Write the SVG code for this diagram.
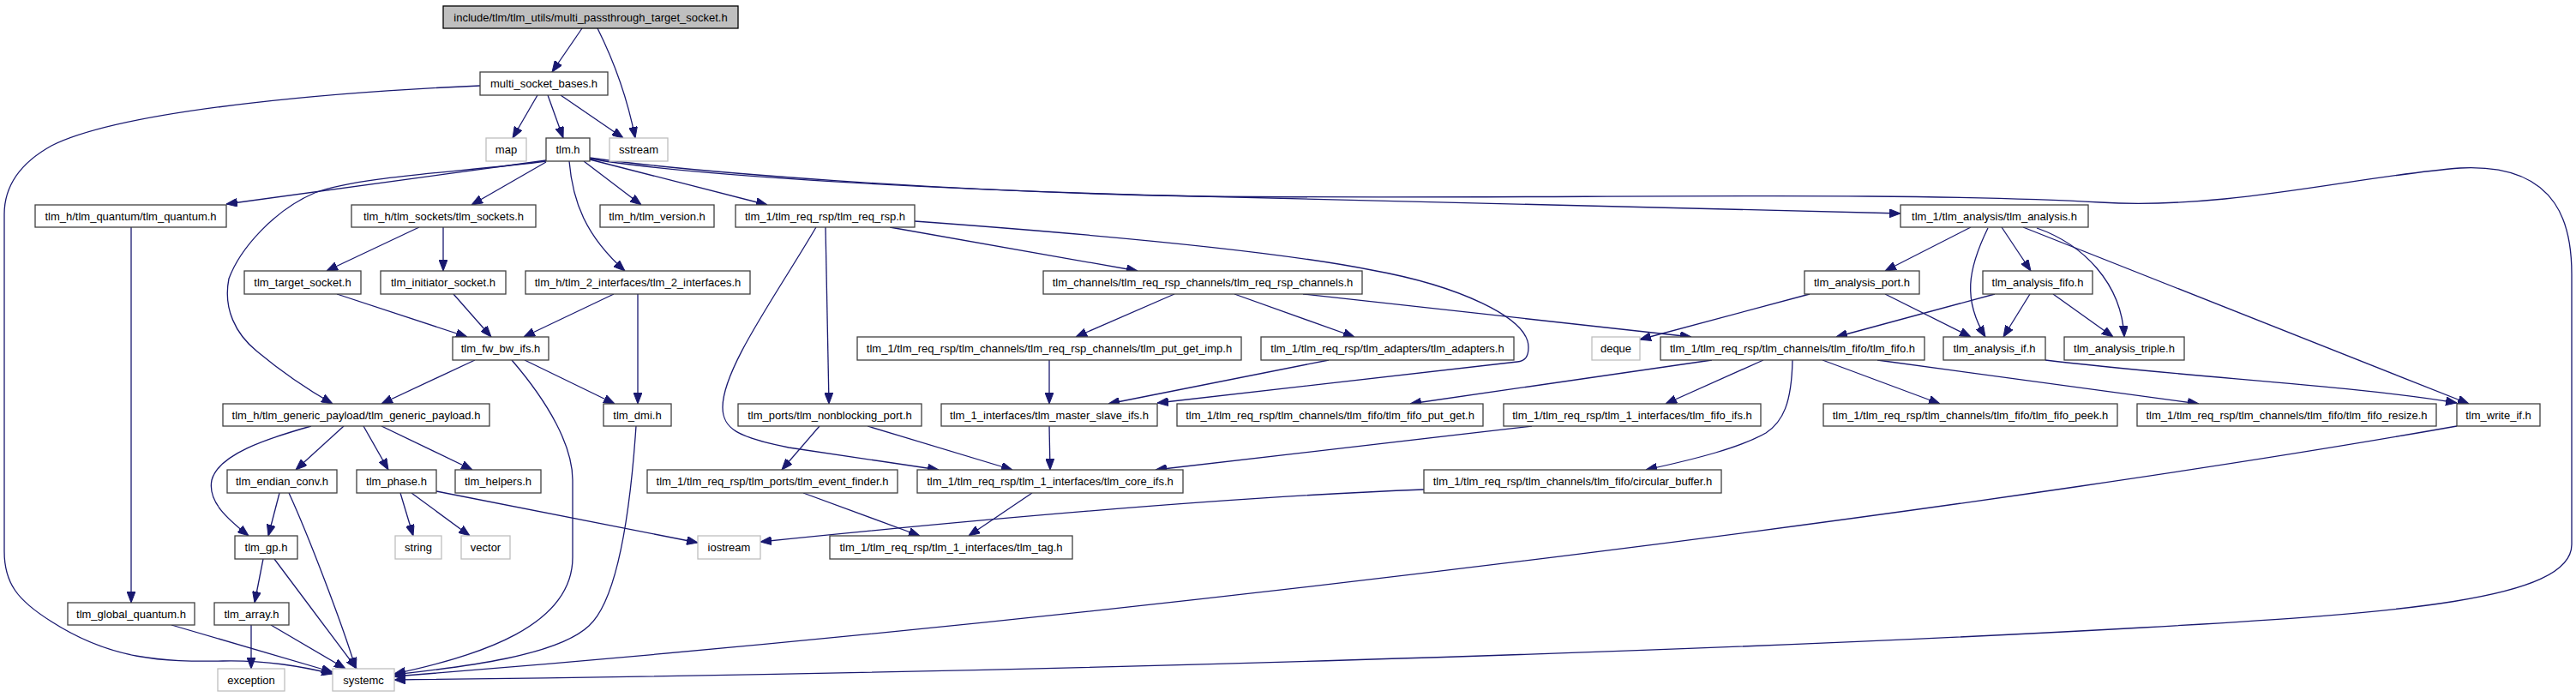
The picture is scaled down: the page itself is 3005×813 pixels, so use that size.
<svg xmlns="http://www.w3.org/2000/svg" width="3005" height="813" viewBox="0 0 3005 813">
<style>
rect{stroke-width:1.3}
.n{fill:#fff;stroke:#404040}
.x{fill:#fff;stroke:#bfbfbf}
.r{fill:#bfbfbf;stroke:#000}
text{font-family:"Liberation Sans",Arial,sans-serif;font-size:13px;text-anchor:middle;fill:#000}
#edges path{fill:none;stroke:#191970;stroke-width:1.3;marker-end:url(#a)}
</style>
<defs>
<marker id="a" markerUnits="userSpaceOnUse" markerWidth="13" markerHeight="10" refX="13" refY="5" orient="auto"><path d="M0,0 L13,5 L0,10 z" fill="#191970" stroke="#191970" stroke-width="1"/></marker>
</defs>
<rect width="3005" height="813" fill="#fff"/>
<g id="edges">
<path d="M679,33 L644,84"/>
<path d="M697,33 C718,75 733,120 741,161"/>
<path d="M560,100 C420,106 150,125 60,170 C15,195 5,225 5,250 L5,643 C5,680 20,700 60,725 C130,770 190,772 260,771 C310,770 350,777 388,786"/>
<path d="M627,111 L598,161"/>
<path d="M639,111 L657,161"/>
<path d="M654,111 L727,161"/>
<path d="M637,187 L264,238"/>
<path d="M637,188 C550,200 420,205 367,225 C320,245 280,290 267,325 C260,360 275,390 300,410 C330,435 360,455 388,471"/>
<path d="M637,189 L550,239"/>
<path d="M664,188 C668,235 683,275 729,316"/>
<path d="M681,188 L748,239"/>
<path d="M688,186 L895,239"/>
<path d="M688,185 C800,205 1100,222 1400,229 C1700,236 2000,245 2217,249"/>
<path d="M688,184 C800,200 1100,224 1400,229 C1800,233 2200,222 2450,236 C2600,245 2750,205 2870,196 C2990,190 3000,270 3000,320 L3000,635 C3000,700 2800,715 2500,732 C2000,760 1200,785 460,793"/>
<path d="M153,265 L153,703"/>
<path d="M489,265 L381,316"/>
<path d="M517,265 L517,316"/>
<path d="M393,343 L545,393"/>
<path d="M529,343 L573,393"/>
<path d="M716,343 L611,393"/>
<path d="M744,343 L744,471"/>
<path d="M554,420 L445,471"/>
<path d="M597,420 C640,470 668,520 668,560 L668,650 C668,730 560,765 460,786"/>
<path d="M612,420 L717,471"/>
<path d="M742,497 C735,600 720,700 687,730 C650,765 540,778 460,787"/>
<path d="M2866,497 C2400,580 1400,715 460,789"/>
<path d="M363,497 C310,512 255,530 247,560 C242,585 265,605 290,625"/>
<path d="M401,497 L345,548"/>
<path d="M424,497 L453,548"/>
<path d="M445,497 L551,548"/>
<path d="M326,575 L313,625"/>
<path d="M337,575 C360,625 400,730 415,780"/>
<path d="M467,575 L482,625"/>
<path d="M480,575 L548,625"/>
<path d="M509,573 L814,633"/>
<path d="M307,652 L297,703"/>
<path d="M320,652 L416,780"/>
<path d="M293,729 L293,780"/>
<path d="M316,729 L403,780"/>
<path d="M200,729 L388,784"/>
<path d="M1038,265 L1327,316"/>
<path d="M1067,258 C1300,275 1500,295 1600,315 C1700,333 1783,370 1783,405 C1783,415 1780,421 1770,422 L1350,470"/>
<path d="M963,265 L967,471"/>
<path d="M952,265 C905,345 843,430 843,475 C843,500 860,510 920,522 L1095,548"/>
<path d="M1370,343 L1255,393"/>
<path d="M1440,343 L1580,393"/>
<path d="M1520,343 L1973,393"/>
<path d="M1224,420 L1224,471"/>
<path d="M1550,420 L1293,471"/>
<path d="M1224,497 L1225,548"/>
<path d="M956,497 L912,548"/>
<path d="M1012,497 L1181,548"/>
<path d="M937,575 L1073,625"/>
<path d="M1204,575 L1130,625"/>
<path d="M2299,265 L2199,316"/>
<path d="M2319,266 C2295,315 2290,350 2316,393"/>
<path d="M2335,265 L2369,316"/>
<path d="M2376,266 C2430,285 2475,330 2478,393"/>
<path d="M2360,265 L2880,471"/>
<path d="M2111,343 L1913,396"/>
<path d="M2199,343 L2299,393"/>
<path d="M2327,343 L2142,393"/>
<path d="M2368,343 L2337,393"/>
<path d="M2395,343 L2465,393"/>
<path d="M2386,420 C2550,440 2750,450 2866,470"/>
<path d="M1997,420 L1645,471"/>
<path d="M2057,420 L1943,471"/>
<path d="M2091,420 C2090,470 2080,492 2060,505 C2030,522 1980,535 1920,548"/>
<path d="M2126,420 L2263,471"/>
<path d="M2190,420 L2565,471"/>
<path d="M1787,497 L1348,548"/>
<path d="M1661,571 C1450,579 1150,605 887,632"/>
</g>
<g id="n0"><rect class="r" x="517" y="7" width="344" height="26"/><text x="689" y="24.5">include/tlm/tlm_utils/multi_passthrough_target_socket.h</text></g>
<g id="n1"><rect class="n" x="560" y="84" width="149" height="27"/><text x="634.5" y="101.5">multi_socket_bases.h</text></g>
<g id="n2"><rect class="x" x="567" y="161" width="47" height="27"/><text x="590.5" y="178.5">map</text></g>
<g id="n3"><rect class="n" x="637" y="161" width="51" height="27"/><text x="662.5" y="178.5">tlm.h</text></g>
<g id="n4"><rect class="x" x="711" y="161" width="68" height="27"/><text x="745" y="178.5">sstream</text></g>
<g id="n5"><rect class="n" x="41" y="239" width="223" height="26"/><text x="152.5" y="256.5">tlm_h/tlm_quantum/tlm_quantum.h</text></g>
<g id="n6"><rect class="n" x="410" y="239" width="215" height="26"/><text x="517.5" y="256.5">tlm_h/tlm_sockets/tlm_sockets.h</text></g>
<g id="n7"><rect class="n" x="700" y="239" width="133" height="26"/><text x="766.5" y="256.5">tlm_h/tlm_version.h</text></g>
<g id="n8"><rect class="n" x="858" y="239" width="209" height="26"/><text x="962.5" y="256.5">tlm_1/tlm_req_rsp/tlm_req_rsp.h</text></g>
<g id="n9"><rect class="n" x="2217" y="239" width="219" height="26"/><text x="2326.5" y="256.5">tlm_1/tlm_analysis/tlm_analysis.h</text></g>
<g id="n10"><rect class="n" x="285" y="316" width="136" height="27"/><text x="353" y="333.5">tlm_target_socket.h</text></g>
<g id="n11"><rect class="n" x="444" y="316" width="146" height="27"/><text x="517" y="333.5">tlm_initiator_socket.h</text></g>
<g id="n12"><rect class="n" x="613" y="316" width="262" height="27"/><text x="744" y="333.5">tlm_h/tlm_2_interfaces/tlm_2_interfaces.h</text></g>
<g id="n13"><rect class="n" x="1217" y="316" width="372" height="27"/><text x="1403" y="333.5">tlm_channels/tlm_req_rsp_channels/tlm_req_rsp_channels.h</text></g>
<g id="n14"><rect class="n" x="2105" y="316" width="134" height="27"/><text x="2172" y="333.5">tlm_analysis_port.h</text></g>
<g id="n15"><rect class="n" x="2313" y="316" width="128" height="27"/><text x="2377" y="333.5">tlm_analysis_fifo.h</text></g>
<g id="n16"><rect class="n" x="528" y="393" width="112" height="27"/><text x="584" y="410.5">tlm_fw_bw_ifs.h</text></g>
<g id="n17"><rect class="n" x="1000" y="393" width="448" height="27"/><text x="1224" y="410.5">tlm_1/tlm_req_rsp/tlm_channels/tlm_req_rsp_channels/tlm_put_get_imp.h</text></g>
<g id="n18"><rect class="n" x="1471" y="393" width="295" height="27"/><text x="1618.5" y="410.5">tlm_1/tlm_req_rsp/tlm_adapters/tlm_adapters.h</text></g>
<g id="n19"><rect class="x" x="1857" y="393" width="56" height="27"/><text x="1885" y="410.5">deque</text></g>
<g id="n20"><rect class="n" x="1937" y="393" width="308" height="27"/><text x="2091" y="410.5">tlm_1/tlm_req_rsp/tlm_channels/tlm_fifo/tlm_fifo.h</text></g>
<g id="n21"><rect class="n" x="2267" y="393" width="119" height="27"/><text x="2326.5" y="410.5">tlm_analysis_if.h</text></g>
<g id="n22"><rect class="n" x="2408" y="393" width="140" height="27"/><text x="2478" y="410.5">tlm_analysis_triple.h</text></g>
<g id="n23"><rect class="n" x="260" y="471" width="311" height="26"/><text x="415.5" y="488.5">tlm_h/tlm_generic_payload/tlm_generic_payload.h</text></g>
<g id="n24"><rect class="n" x="704" y="471" width="79" height="26"/><text x="743.5" y="488.5">tlm_dmi.h</text></g>
<g id="n25"><rect class="n" x="861" y="471" width="214" height="26"/><text x="968" y="488.5">tlm_ports/tlm_nonblocking_port.h</text></g>
<g id="n26"><rect class="n" x="1098" y="471" width="252" height="26"/><text x="1224" y="488.5">tlm_1_interfaces/tlm_master_slave_ifs.h</text></g>
<g id="n27"><rect class="n" x="1373" y="471" width="357" height="26"/><text x="1551.5" y="488.5">tlm_1/tlm_req_rsp/tlm_channels/tlm_fifo/tlm_fifo_put_get.h</text></g>
<g id="n28"><rect class="n" x="1754" y="471" width="300" height="26"/><text x="1904" y="488.5">tlm_1/tlm_req_rsp/tlm_1_interfaces/tlm_fifo_ifs.h</text></g>
<g id="n29"><rect class="n" x="2127" y="471" width="343" height="26"/><text x="2298.5" y="488.5">tlm_1/tlm_req_rsp/tlm_channels/tlm_fifo/tlm_fifo_peek.h</text></g>
<g id="n30"><rect class="n" x="2493" y="471" width="349" height="26"/><text x="2667.5" y="488.5">tlm_1/tlm_req_rsp/tlm_channels/tlm_fifo/tlm_fifo_resize.h</text></g>
<g id="n31"><rect class="n" x="2866" y="471" width="97" height="26"/><text x="2914.5" y="488.5">tlm_write_if.h</text></g>
<g id="n32"><rect class="n" x="265" y="548" width="128" height="27"/><text x="329" y="565.5">tlm_endian_conv.h</text></g>
<g id="n33"><rect class="n" x="416" y="548" width="93" height="27"/><text x="462.5" y="565.5">tlm_phase.h</text></g>
<g id="n34"><rect class="n" x="531" y="548" width="100" height="27"/><text x="581" y="565.5">tlm_helpers.h</text></g>
<g id="n35"><rect class="n" x="755" y="548" width="292" height="27"/><text x="901" y="565.5">tlm_1/tlm_req_rsp/tlm_ports/tlm_event_finder.h</text></g>
<g id="n36"><rect class="n" x="1070" y="548" width="310" height="27"/><text x="1225" y="565.5">tlm_1/tlm_req_rsp/tlm_1_interfaces/tlm_core_ifs.h</text></g>
<g id="n37"><rect class="n" x="1661" y="548" width="347" height="27"/><text x="1834.5" y="565.5">tlm_1/tlm_req_rsp/tlm_channels/tlm_fifo/circular_buffer.h</text></g>
<g id="n38"><rect class="n" x="274" y="625" width="73" height="27"/><text x="310.5" y="642.5">tlm_gp.h</text></g>
<g id="n39"><rect class="x" x="461" y="625" width="54" height="27"/><text x="488" y="642.5">string</text></g>
<g id="n40"><rect class="x" x="538" y="625" width="57" height="27"/><text x="566.5" y="642.5">vector</text></g>
<g id="n41"><rect class="x" x="814" y="625" width="73" height="27"/><text x="850.5" y="642.5">iostream</text></g>
<g id="n42"><rect class="n" x="968" y="625" width="283" height="27"/><text x="1109.5" y="642.5">tlm_1/tlm_req_rsp/tlm_1_interfaces/tlm_tag.h</text></g>
<g id="n43"><rect class="n" x="79" y="703" width="148" height="26"/><text x="153" y="720.5">tlm_global_quantum.h</text></g>
<g id="n44"><rect class="n" x="250" y="703" width="87" height="26"/><text x="293.5" y="720.5">tlm_array.h</text></g>
<g id="n45"><rect class="x" x="254" y="780" width="78" height="26"/><text x="293" y="797.5">exception</text></g>
<g id="n46"><rect class="x" x="388" y="780" width="72" height="26"/><text x="424" y="797.5">systemc</text></g>
</svg>
